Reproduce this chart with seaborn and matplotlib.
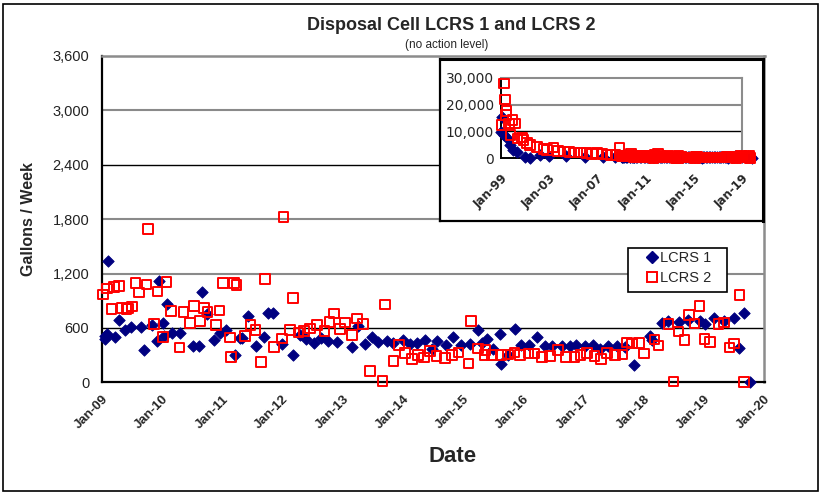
import matplotlib
matplotlib.use("Agg")
import matplotlib.pyplot as plt
import matplotlib.dates as mdates
from matplotlib.patches import Rectangle
from matplotlib.lines import Line2D
from matplotlib.ticker import FuncFormatter
import seaborn as sns
import pandas as pd

# -----------------------------
# data
# -----------------------------
lcrs1_dates = [
    "2009-01-20", "2009-01-24", "2009-02-02", "2009-02-10", "2009-03-20", "2009-04-14",
    "2009-05-24", "2009-06-26", "2009-08-30", "2009-09-15", "2009-10-30", "2009-12-05",
    "2009-12-13", "2010-01-07", "2010-01-11", "2010-01-30", "2010-03-03", "2010-04-19",
    "2010-07-07", "2010-08-11", "2010-09-02", "2010-09-30", "2010-11-14", "2010-12-18",
    "2011-01-26", "2011-03-18", "2011-04-18", "2011-05-01", "2011-06-04", "2011-07-28",
    "2011-09-11", "2011-10-07", "2011-11-07", "2011-12-28", "2012-03-07", "2012-04-17",
    "2012-05-21", "2012-07-12", "2012-08-22", "2012-10-06", "2012-11-26", "2013-02-26",
    "2013-04-02", "2013-05-15", "2013-06-29", "2013-08-05", "2013-09-25", "2013-11-04",
    "2014-01-04", "2014-02-14", "2014-03-25", "2014-05-14", "2014-06-24", "2014-07-24",
    "2014-09-17", "2014-10-30", "2014-12-19", "2015-02-13", "2015-03-30", "2015-04-27",
    "2015-05-23", "2015-07-02", "2015-08-12", "2015-08-18", "2015-10-02", "2015-11-12",
    "2015-12-18", "2016-02-01", "2016-03-22", "2016-05-11", "2016-06-25", "2016-08-21",
    "2016-10-07", "2016-11-17", "2017-01-11", "2017-02-27", "2017-04-10", "2017-05-30",
    "2017-07-20", "2017-09-05", "2017-10-30", "2018-02-09", "2018-02-19", "2018-04-19",
    "2018-05-29", "2018-07-29", "2018-09-24", "2018-12-04", "2019-01-04", "2019-03-02",
    "2019-04-28", "2019-07-02", "2019-08-02", "2019-08-30", "2019-10-08",
]
lcrs1_gpw = [
    475, 508, 537, 1339, 497, 684,
    582, 607, 607, 357, 629, 453,
    1112, 659, 511, 869, 549, 549,
    401, 401, 994, 748, 464, 549,
    574, 298, 493, 489, 732, 397,
    500, 765, 765, 423, 298, 519,
    482, 434, 493, 453, 445, 390,
    618, 427, 500, 445, 453, 434,
    464, 427, 434, 471, 372, 453,
    416, 500, 416, 427, 574, 438,
    482, 372, 537, 206, 298, 585,
    416, 416, 500, 405, 397, 397,
    397, 416, 397, 408, 372, 401,
    401, 390, 188, 511, 464, 659,
    673, 666, 684, 680, 648, 710,
    678, 710, 378, 760, 0,
]

lcrs2_dates = [
    "2009-01-10", "2009-02-01", "2009-03-01", "2009-03-16", "2009-04-14", "2009-05-04",
    "2009-05-31", "2009-06-10", "2009-07-04", "2009-07-25", "2009-08-16", "2009-09-30",
    "2009-10-10", "2009-11-15", "2009-12-06", "2010-01-09", "2010-01-28", "2010-02-24",
    "2010-04-17", "2010-05-11", "2010-06-19", "2010-07-13", "2010-08-19", "2010-09-14",
    "2010-10-05", "2010-11-23", "2010-12-17", "2011-01-08", "2011-02-17", "2011-02-24",
    "2011-03-14", "2011-03-28", "2011-05-18", "2011-06-22", "2011-07-22", "2011-08-24",
    "2011-09-17", "2011-11-13", "2011-12-28", "2012-01-07", "2012-02-17", "2012-03-07",
    "2012-04-07", "2012-05-11", "2012-06-17", "2012-07-27", "2012-09-12", "2012-10-12",
    "2012-11-10", "2012-12-16", "2013-01-16", "2013-02-26", "2013-03-30", "2013-05-05",
    "2013-06-15", "2013-08-29", "2013-09-15", "2013-11-04", "2013-12-09", "2014-01-15",
    "2014-02-25", "2014-04-01", "2014-05-10", "2014-06-14", "2014-07-24", "2014-09-14",
    "2014-10-24", "2014-12-03", "2015-02-03", "2015-02-19", "2015-03-30", "2015-05-09",
    "2015-05-17", "2015-06-26", "2015-08-18", "2015-09-28", "2015-11-08", "2015-12-12",
    "2016-02-01", "2016-03-08", "2016-04-22", "2016-06-11", "2016-07-28", "2016-09-15",
    "2016-11-05", "2016-12-11", "2017-01-21", "2017-03-06", "2017-04-16", "2017-05-21",
    "2017-07-10", "2017-08-24", "2017-09-20", "2017-10-20", "2017-11-30", "2017-12-30",
    "2018-03-05", "2018-03-29", "2018-05-29", "2018-06-29", "2018-07-29", "2018-09-04",
    "2018-10-02", "2018-11-02", "2018-12-02", "2019-01-02", "2019-02-03", "2019-03-28",
    "2019-05-01", "2019-06-03", "2019-07-02", "2019-08-03", "2019-08-30",
]
lcrs2_gpw = [
    968, 1034, 806, 1052, 1060, 820,
    806, 813, 836, 1093, 990, 1078,
    1692, 644, 1001, 500, 1107, 787,
    383, 776, 651, 842, 677, 820,
    776, 629, 791, 1093, 493, 276,
    1093, 1071, 511, 629, 574, 224,
    1137, 390, 482, 1825, 574, 931,
    549, 563, 593, 629, 563, 666,
    758, 585, 659, 519, 703, 640,
    125, 14, 858, 232, 408, 324,
    254, 298, 273, 342, 290, 268,
    298, 328, 206, 673, 372, 298,
    353, 298, 298, 305, 328, 298,
    317, 317, 280, 287, 353, 280,
    280, 298, 324, 287, 254, 324,
    298, 305, 438, 427, 434, 317,
    473, 405, 644, 8, 560, 467,
    740, 648, 840, 476, 445, 640,
    660, 383, 427, 960, 0,
]

# earlier record, only shown in the inset (1999 - 2008)
hist1_dates = [
    "1999-01-05", "1999-02-15", "1999-04-01", "1999-07-01", "1999-10-01", "2000-01-01",
    "2000-05-10", "2001-01-01", "2001-06-01", "2002-04-01", "2003-01-01", "2004-06-01",
    "2006-01-01", "2007-06-01", "2008-06-01",
]
hist1_gpw = [
    9700, 15500, 8700, 7400, 5000, 3100,
    2200, 600, 0, 1200, 900, 700,
    600, 500, 600,
]
hist2_dates = [
    "1999-01-20", "1999-04-01", "1999-05-01", "1999-06-01", "1999-06-20", "1999-09-01",
    "1999-10-15", "1999-12-20", "2000-03-01", "2000-05-10", "2000-09-20", "2000-11-10",
    "2001-02-20", "2001-06-01", "2001-12-20", "2002-07-10", "2002-11-01", "2003-05-10",
    "2003-10-01", "2004-03-15", "2004-09-01", "2005-02-01", "2005-08-01", "2006-02-01",
    "2006-07-15", "2006-12-20", "2007-06-01", "2007-11-01", "2008-01-30", "2008-07-01",
    "2008-11-01",
]
hist2_gpw = [
    12400, 27900, 21900, 16100, 17600, 13000,
    8700, 14250, 13000, 7400, 7800, 6800,
    5600, 5000, 4300, 3500, 3000, 4000,
    2800, 2500, 2300, 2100, 2200, 1900,
    1700, 1860, 1500, 1400, 1240, 1300,
    3720,
]

y_ticks = [0, 600, 1200, 1800, 2400, 3000, 3600]
inset_y_ticks = [0, 10000, 20000, 30000]
x_tick_years = list(range(2009, 2021))
inset_tick_years = [1999, 2003, 2007, 2011, 2015, 2019]

df1 = pd.DataFrame({"date": pd.to_datetime(lcrs1_dates), "gpw": lcrs1_gpw})
df2 = pd.DataFrame({"date": pd.to_datetime(lcrs2_dates), "gpw": lcrs2_gpw})
h1 = pd.DataFrame({"date": pd.to_datetime(hist1_dates), "gpw": hist1_gpw})
h2 = pd.DataFrame({"date": pd.to_datetime(hist2_dates), "gpw": hist2_gpw})
all1 = pd.concat([h1, df1], ignore_index=True)
all2 = pd.concat([h2, df2], ignore_index=True)

NAVY = "#000080"
RED = "#FF0000"

sns.set_style("white")
plt.rcParams["font.family"] = ["Liberation Sans", "DejaVu Sans"]

fig = plt.figure(figsize=(8.24, 4.94), dpi=100)
W, H = 824.0, 494.0


def px_box(x0, y0, x1, y1):
    return [x0 / W, 1 - y1 / H, (x1 - x0) / W, (y1 - y0) / H]


def comma(v, pos):
    return f"{v:,.0f}"


def open_squares(ax, lw):
    coll = ax.collections[-1]
    coll.set_facecolor("none")
    coll.set_edgecolor(RED)
    coll.set_linewidth(lw)


def excel_grid(ax, levels, dark):
    # Excel's gridlines come out either crisp black or a blurred grey
    for lv in levels[1:-1]:
        if lv in dark:
            ax.axhline(lv, color="black", lw=1.0, zorder=1)
        else:
            ax.axhline(lv, color="#8a8a8a", lw=1.5, zorder=1)


# -----------------------------
# main chart
# -----------------------------
ax = fig.add_axes(px_box(101.7, 55.9, 764.5, 382.3))
excel_grid(ax, y_ticks, dark=[600, 2400])
sns.scatterplot(data=df1, x="date", y="gpw", marker="D", s=34, color=NAVY,
                edgecolor=NAVY, linewidth=0.6, ax=ax, clip_on=False, zorder=3, legend=False)
sns.scatterplot(data=df2, x="date", y="gpw", marker="s", s=48, color=RED,
                ax=ax, clip_on=False, zorder=4, legend=False)
open_squares(ax, 1.4)

ax.set_xlim(pd.Timestamp("2009-01-01"), pd.Timestamp("2020-01-01"))
ax.set_ylim(0, 3600)
ax.set_yticks(y_ticks)
ax.yaxis.set_major_formatter(FuncFormatter(comma))
ax.set_xticks([pd.Timestamp(f"{y}-01-01") for y in x_tick_years])
ax.xaxis.set_major_formatter(mdates.DateFormatter("%b-%y"))
for side in ["left", "bottom"]:
    ax.spines[side].set_color("black")
    ax.spines[side].set_linewidth(1.6)
for side in ["top", "right"]:
    ax.spines[side].set_color("#8c8c8c")
    ax.spines[side].set_linewidth(1.8)
ax.tick_params(axis="both", direction="out", length=4, width=1, color="black")
ax.tick_params(axis="y", labelsize=10.5, labelcolor="#222222", pad=5)
ax.tick_params(axis="x", labelsize=9.5, pad=4)
for lbl in ax.get_xticklabels():
    lbl.set_rotation(45)
    lbl.set_ha("right")
    lbl.set_rotation_mode("anchor")
    lbl.set_fontweight("bold")
ax.set_xlabel("Date", fontsize=16, fontweight="bold")
ax.xaxis.set_label_coords(0.53, -0.195)
ax.set_ylabel("Gallons / Week", fontsize=11.5, fontweight="bold", labelpad=12)

# legend: entries without frame, frame drawn as its own box
handles = [
    Line2D([], [], ls="", marker="D", ms=5.8, color=NAVY),
    Line2D([], [], ls="", marker="s", ms=6.8, mfc="none", mec=RED, mew=1.4),
]
leg = ax.legend(handles, ["LCRS 1", "LCRS 2"], loc="upper left",
                bbox_to_anchor=(0.822, 0.402), frameon=False, fontsize=10.5,
                handlelength=0.8, handletextpad=0.1, borderpad=0,
                labelspacing=0.4, borderaxespad=0)
leg.set_zorder(10)
ax.add_patch(Rectangle((0.7945, 0.2757), 0.1495, 0.1348, transform=ax.transAxes,
                       facecolor="white", edgecolor="black", lw=1.2, zorder=9,
                       clip_on=False))

fig.text(451 / W, 1 - 26 / H, "Disposal Cell LCRS 1 and LCRS 2",
         ha="center", va="center", fontsize=13, fontweight="bold")
fig.text(447 / W, 1 - 45 / H, "(no action level)", ha="center", va="center", fontsize=8.5)

# -----------------------------
# inset with the full record
# -----------------------------
box = fig.add_axes(px_box(440, 59, 763, 220.7))
box.set_xticks([])
box.set_yticks([])
box.set_facecolor("white")
for sp in box.spines.values():
    sp.set_color("black")
    sp.set_linewidth(1.6)
box.spines["top"].set_linewidth(2.2)
box.spines["right"].set_linewidth(2.2)
box.set_zorder(5)

ins = fig.add_axes(px_box(501, 77.7, 742.3, 158.3))
ins.set_zorder(6)
excel_grid(ins, inset_y_ticks, dark=[10000])
sns.scatterplot(data=all1, x="date", y="gpw", marker="D", s=34, color=NAVY,
                edgecolor=NAVY, linewidth=0.6, ax=ins, clip_on=False, zorder=3, legend=False)
sns.scatterplot(data=all2, x="date", y="gpw", marker="s", s=48, color=RED,
                ax=ins, clip_on=False, zorder=4, legend=False)
open_squares(ins, 1.4)
ins.set_xlim(pd.Timestamp("1999-01-01"), pd.Timestamp("2019-01-01"))
ins.set_ylim(0, 30000)
ins.set_yticks(inset_y_ticks)
ins.yaxis.set_major_formatter(FuncFormatter(comma))
ins.set_xticks([pd.Timestamp(f"{y}-01-01") for y in inset_tick_years])
ins.xaxis.set_major_formatter(mdates.DateFormatter("%b-%y"))
for side in ["left", "bottom"]:
    ins.spines[side].set_color("black")
    ins.spines[side].set_linewidth(1.4)
for side in ["top", "right"]:
    ins.spines[side].set_color("#8c8c8c")
    ins.spines[side].set_linewidth(1.5)
ins.tick_params(axis="both", direction="out", length=3, width=1, color="black")
ins.tick_params(axis="y", labelsize=10, pad=2)
ins.tick_params(axis="x", labelsize=8.5, pad=7)
for lbl in ins.get_yticklabels():
    lbl.set_family(["DejaVu Sans"])
for lbl in ins.get_xticklabels():
    lbl.set_rotation(45)
    lbl.set_ha("right")
    lbl.set_rotation_mode("anchor")
    lbl.set_fontweight("bold")
    lbl.set_family(["DejaVu Sans"])
ins.set_xlabel("")
ins.set_ylabel("")

# outer frame of the chart object
fig.patches.append(Rectangle((2.7 / W, 1 - 491 / H), 815.3 / W, 487 / H,
                             transform=fig.transFigure, fill=False,
                             edgecolor="black", lw=1.2))

fig.savefig("out.png", dpi=100)
